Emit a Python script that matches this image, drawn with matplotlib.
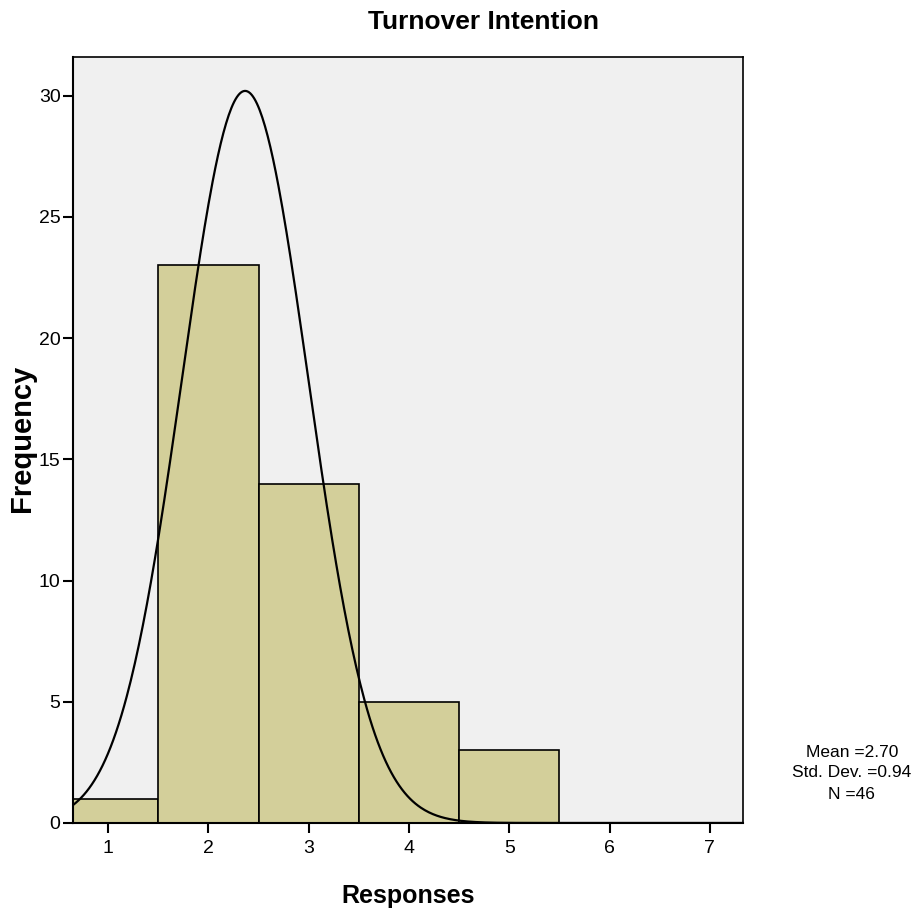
import numpy as np
import matplotlib
matplotlib.use("Agg")
import matplotlib.pyplot as plt

narrow = 'Liberation Sans'

bin_centers = [1, 2, 3, 4, 5, 6, 7]
counts = [1, 23, 14, 5, 3, 0, 0]
curve_mean = 2.366
curve_sd = 0.63
curve_peak = 30.2
stats_text = ["Mean =2.70", "Std. Dev. =0.94", "N =46"]
xticks = [1, 2, 3, 4, 5, 6, 7]
yticks = [0, 5, 10, 15, 20, 25, 30]

fig = plt.figure(figsize=(9.15, 9.13), dpi=100)
ax = fig.add_axes([0.0798, 0.0986, 0.7322, 0.839])
ax.set_facecolor('#f0f0f0')

left_edge = 0.65
right_edge = 7.33
for c, n in zip(bin_centers, counts):
    if n <= 0:
        continue
    l = max(c - 0.5, left_edge)
    ax.bar(l, n, width=(c + 0.5) - l, align='edge', color='#d3cf9a',
           edgecolor='black', linewidth=1.2, zorder=2)

xs = np.linspace(left_edge, right_edge, 500)
ys = curve_peak * np.exp(-0.5 * ((xs - curve_mean) / curve_sd) ** 2)
ax.plot(xs, ys, color='black', linewidth=1.6, zorder=3)

ax.set_xlim(left_edge, right_edge)
ax.set_ylim(0, 31.6)
ax.set_xticks(xticks)
ax.set_yticks(yticks)
ax.tick_params(direction='out', length=7, width=1.5, labelsize=14)
for lab in ax.get_xticklabels() + ax.get_yticklabels():
    lab.set_fontfamily(narrow)
ax.tick_params(axis='x', pad=5)
ax.tick_params(axis='y', pad=2)
for s in ax.spines.values():
    s.set_linewidth(1.5)
ax.spines['top'].set_linewidth(1.2)
ax.spines['right'].set_linewidth(1.2)

fig.text(0.528, 0.976, "Turnover Intention", ha='center', va='center',
         fontsize=19, fontweight='bold', family=narrow)
fig.text(0.4465, 0.019, "Responses", ha='center', va='center',
         fontsize=18, fontweight='bold', family=narrow)
fig.text(0.024, 0.52, "Frequency", ha='center', va='center', rotation=90,
         fontsize=21, fontweight='bold', family='Liberation Sans')

ys_txt = [0.176, 0.154, 0.130]
for t, y in zip(stats_text, ys_txt):
    fig.text(0.931, y, t, ha='center', va='center', fontsize=12.5, family=narrow)

fig.savefig("out.png", dpi=100)
